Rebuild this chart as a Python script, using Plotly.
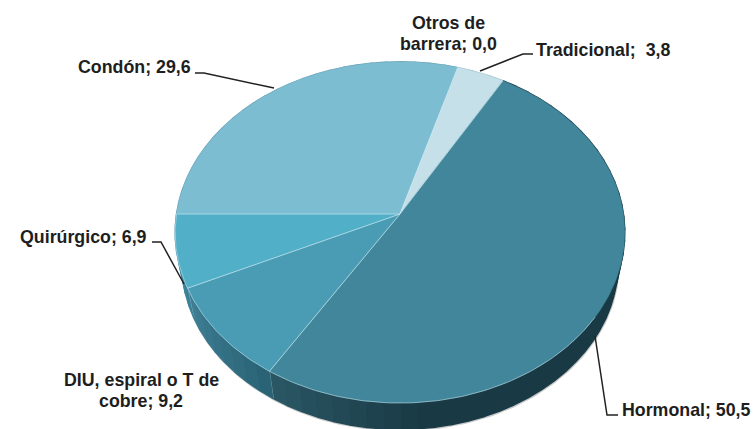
import numpy as np
import plotly.graph_objects as go

categories = ["Condón", "Otros de barrera", "Tradicional", "Hormonal", "DIU, espiral o T de cobre", "Quirúrgico"]
values = [29.6, 0.0, 3.8, 50.5, 9.2, 6.9]
top_colors = ["#7dbdd2", "#7dbdd2", "#c6e0ea", "#41869a", "#4a9bb4", "#51afc8"]
side_light = ["#6aa0b2", "#6aa0b2", "#9fc0cc", "#2b5866", "#3f8096", "#3f8ea6"]
side_dark = ["#6aa0b2", "#6aa0b2", "#9fc0cc", "#193a45", "#2a6274", "#3a8298"]

# label text lines with their placement (pixels)
labels = [
    (["Otros de", "barrera; 0,0"], 448, [23, 44]),
    (["Tradicional;\u00a0 3,8"], 603, [50]),
    (["Condón; 29,6"], 134, [67]),
    (["Quirúrgico; 6,9"], 83, [237]),
    (["DIU, espiral o T de", "cobre; 9,2"], 141, [380, 401]),
    (["Hormonal; 50,5"], 686, [410]),
]
leaders = [
    [(480, 71), (523, 54), (533, 54)],
    [(274, 88), (204, 73), (195, 73)],
    [(152, 242), (161, 242), (184, 284)],
    [(595, 336), (607, 415), (618, 415)],
]

# pie geometry, in pixels
CX, CY, RX, RY, PERSP = 400, 214, 223.5, 168.6, 0.108
DEPTH, BASE_SCALE = 32, 0.97
START = 270.0


def project(theta_deg, scale=1.0, dy=0.0):
    t = np.radians(theta_deg)
    X, Y = np.sin(t), np.cos(t)
    w = 1 + PERSP * Y
    return CX + scale * RX * X / w, CY - scale * RY * Y / w + dy


def rgb(h):
    return np.array([int(h[j:j + 2], 16) for j in (1, 3, 5)], dtype=float)


fig = go.Figure()
total = sum(values)
edges = START + np.cumsum([0] + values) / total * 360

# soft shadow under the rim
th = np.linspace(80, 280, 200)
sx, sy = project(th, BASE_SCALE, DEPTH)
fig.add_trace(go.Scatter(x=sx + 0.5, y=sy + 1, mode="lines",
                         line=dict(color="rgba(120,120,120,0.4)", width=2), hoverinfo="skip"))

# rim
for i, v in enumerate(values):
    if v == 0:
        continue
    a0, a1 = edges[i], edges[i + 1]
    n = max(2, int((a1 - a0) / 4))
    steps = np.linspace(a0, a1, n + 1)
    for k in range(n):
        seg = np.linspace(steps[k], steps[k + 1], 4)
        tx, ty = project(seg)
        bx, by = project(seg[::-1], BASE_SCALE, DEPTH)
        m = (steps[k] + steps[k + 1]) / 2
        if categories[i] == "Hormonal":
            f = float(np.clip((m % 360 - 175) / (a1 % 360 - 175), 0, 1))
        else:
            f = (m - a0) / (a1 - a0)
        c = rgb(side_dark[i]) + (rgb(side_light[i]) - rgb(side_dark[i])) * f
        col = "rgb(%d,%d,%d)" % tuple(c.astype(int))
        fig.add_trace(go.Scatter(x=np.r_[tx, bx], y=np.r_[ty, by], mode="lines", fill="toself",
                                 fillcolor=col, line=dict(color=col, width=1.5), hoverinfo="skip"))
    tx0, ty0 = project(np.array([a1]))
    bx0, by0 = project(np.array([a1]), BASE_SCALE, DEPTH)
    fig.add_trace(go.Scatter(x=[tx0[0], bx0[0]], y=[ty0[0], by0[0]], mode="lines",
                             line=dict(color="rgba(190,220,228,0.5)", width=1), hoverinfo="skip"))

# top faces
for i, (name, v) in enumerate(zip(categories, values)):
    if v == 0:
        continue
    arc = np.linspace(edges[i], edges[i + 1], max(3, int(v * 4)))
    ax, ay = project(arc)
    fig.add_trace(go.Scatter(x=np.r_[CX, ax, CX], y=np.r_[CY, ay, CY], mode="lines", fill="toself",
                             fillcolor=top_colors[i], name=name,
                             line=dict(color=top_colors[i], width=0.5), hoverinfo="skip"))

# pale seams between the slices and along the front edge
for e in edges[[0, 2, 3, 4, 5]]:
    ex, ey = project(np.array([e]))
    fig.add_trace(go.Scatter(x=[CX, ex[0]], y=[CY, ey[0]], mode="lines",
                             line=dict(color="rgba(205,232,240,0.7)", width=1), hoverinfo="skip"))
fx, fy = project(np.linspace(125, 270, 150))
fig.add_trace(go.Scatter(x=fx, y=fy, mode="lines",
                         line=dict(color="rgba(205,232,240,0.55)", width=1), hoverinfo="skip"))

shapes = []
for pts in leaders:
    path = "M " + " L ".join(f"{x},{y}" for x, y in pts)
    shapes.append(dict(type="path", path=path, line=dict(color="#222222", width=1.5)))

annotations = []
for lines, x, ys in labels:
    for line, y in zip(lines, ys):
        annotations.append(dict(x=x, y=y, xref="x", yref="y", text=f"<b>{line}</b>", showarrow=False,
                                xanchor="center", yanchor="middle",
                                font=dict(family="Liberation Sans", size=17.8, color="#1e1e1e")))

fig.update_layout(
    width=754, height=429, margin=dict(l=0, r=0, t=0, b=0), showlegend=False,
    paper_bgcolor="white", plot_bgcolor="white", shapes=shapes, annotations=annotations,
    xaxis=dict(range=[0, 754], visible=False, fixedrange=True),
    yaxis=dict(range=[429, 0], visible=False, fixedrange=True),
)
fig.write_html("out.html", config={"displayModeBar": False},
               post_script="document.body.style.margin='0';")
